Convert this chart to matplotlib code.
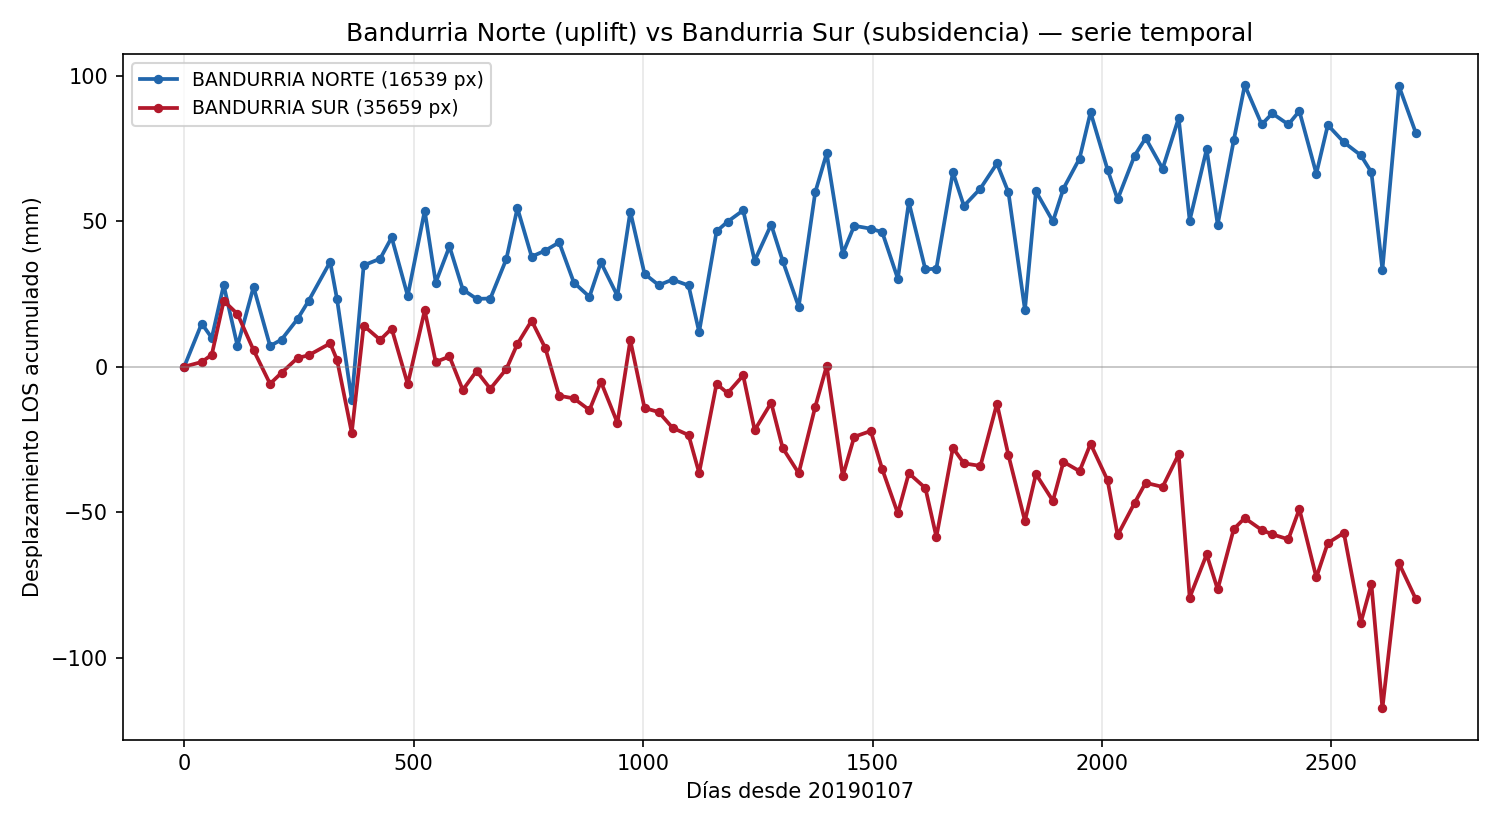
import matplotlib
matplotlib.use("Agg")
import matplotlib.pyplot as plt
import numpy as np

# días desde la primera adquisición (20190107)
dias = [0, 38, 60, 86, 116, 151, 187, 212, 247, 271,
        318, 333, 365, 391, 427, 452, 487, 524, 548, 578,
        607, 637, 667, 702, 726, 757, 787, 817, 849, 883,
        908, 944, 972, 1003, 1034, 1064, 1099, 1122, 1160, 1184,
        1218, 1243, 1279, 1304, 1339, 1375, 1400, 1435, 1460, 1496,
        1521, 1555, 1579, 1615, 1639, 1675, 1699, 1735, 1771, 1796,
        1832, 1856, 1893, 1916, 1951, 1975, 2012, 2034, 2071, 2095,
        2132, 2167, 2191, 2228, 2252, 2287, 2311, 2348, 2371, 2406,
        2430, 2467, 2492, 2527, 2564, 2587, 2611, 2647, 2684]

norte = [0, 14.8, 9.9, 28.0, 7.1, 27.4, 7.1, 9.3, 16.4, 22.6,
         36.0, 23.1, -11.4, 34.8, 37.1, 44.4, 24.3, 53.6, 28.9, 41.3,
         26.5, 23.3, 23.4, 37.0, 54.5, 37.8, 39.9, 42.7, 28.9, 24.0,
         35.8, 24.3, 53.3, 31.9, 28.0, 29.9, 27.9, 11.9, 46.5, 49.8,
         53.7, 36.4, 48.8, 36.4, 20.6, 59.9, 73.3, 38.8, 48.4, 47.4,
         46.2, 30.2, 56.5, 33.4, 33.7, 66.8, 55.2, 61.2, 69.8, 59.9,
         19.5, 60.2, 49.9, 61.2, 71.5, 87.4, 67.7, 57.5, 72.5, 78.5,
         68.0, 85.4, 50.2, 74.7, 48.8, 77.7, 96.7, 83.2, 87.0, 83.2,
         87.8, 66.3, 83.0, 77.1, 72.6, 66.8, 33.3, 96.4, 80.2]

sur = [0, 1.6, 4.1, 22.6, 18.1, 5.7, -5.9, -2.1, 3.0, 3.9,
       8.0, 2.3, -22.7, 14.1, 9.2, 13.1, -6.0, 19.3, 1.6, 3.5,
       -8.0, -1.5, -7.6, -0.8, 7.8, 15.8, 6.3, -10.0, -10.9, -14.9,
       -5.2, -19.3, 9.1, -14.2, -15.6, -21.0, -23.5, -36.5, -5.9, -9.1,
       -3.0, -21.8, -12.4, -27.9, -36.6, -13.8, 0.3, -37.6, -24.1, -22.1,
       -35.2, -50.4, -36.6, -41.7, -58.5, -27.9, -33.2, -34.1, -12.7, -30.4,
       -53.0, -36.9, -46.1, -32.7, -35.9, -26.5, -39.0, -57.9, -46.8, -39.9,
       -41.3, -30.1, -79.3, -64.5, -76.5, -55.8, -52.0, -56.1, -57.6, -59.3,
       -48.9, -72.4, -60.6, -57.1, -87.9, -74.7, -117.4, -67.5, -79.9]

px_norte = 16539
px_sur = 35659

fig, ax = plt.subplots(figsize=(10, 5.5), dpi=150)

ax.plot(dias, norte, "-o", color="#2166ac", lw=1.8, ms=3.5,
        label=f"BANDURRIA NORTE ({px_norte} px)")
ax.plot(dias, sur, "-o", color="#b2182b", lw=1.8, ms=3.5,
        label=f"BANDURRIA SUR ({px_sur} px)")
ax.axhline(0, color="gray", lw=0.8, alpha=0.5)

ax.set_title("Bandurria Norte (uplift) vs Bandurria Sur (subsidencia) — serie temporal")
ax.set_xlabel("Días desde 20190107")
ax.set_ylabel("Desplazamiento LOS acumulado (mm)")
ax.grid(True, axis="x", alpha=0.3)
ax.legend(loc="upper left", fontsize=9)

plt.tight_layout()
plt.savefig("out.png")
